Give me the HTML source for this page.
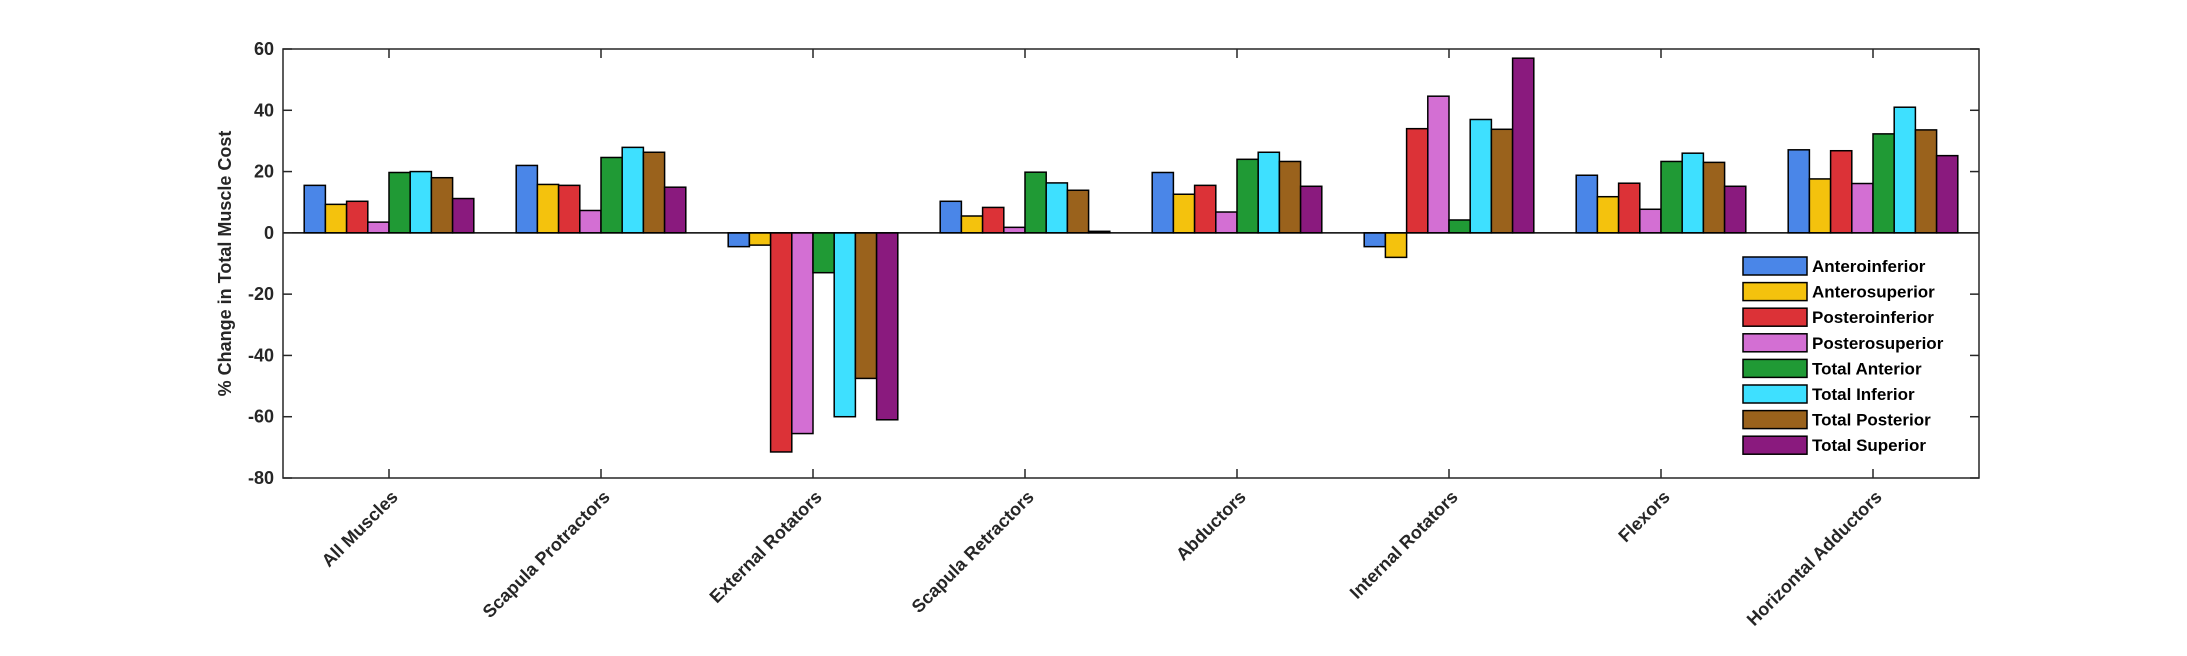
<!DOCTYPE html>
<html><head><meta charset="utf-8"><style>
html,body{margin:0;padding:0;background:#fff;}
svg{display:block;font-family:"Liberation Sans",Arial,sans-serif;font-weight:bold;}
</style></head><body>
<svg id="chart" width="2187" height="656" xmlns="http://www.w3.org/2000/svg">
<rect width="2187" height="656" fill="#fff"/>
<g id="bars"></g>
<g id="axes"></g>
<g id="legend"></g>
</svg>
<script>
const categories = ["All Muscles","Scapula Protractors","External Rotators","Scapula Retractors","Abductors","Internal Rotators","Flexors","Horizontal Adductors"];
const seriesNames = ["Anteroinferior","Anterosuperior","Posteroinferior","Posterosuperior","Total Anterior","Total Inferior","Total Posterior","Total Superior"];
const anteroinferior = [15.5,22,-4.5,10.3,19.7,-4.5,18.8,27.1];
const anterosuperior = [9.3,15.8,-4,5.5,12.6,-8,11.8,17.6];
const posteroinferior = [10.3,15.5,-71.5,8.3,15.5,34,16.2,26.8];
const posterosuperior = [3.5,7.3,-65.5,1.8,6.8,44.6,7.7,16.1];
const totalAnterior = [19.7,24.6,-13,19.8,24,4.2,23.3,32.3];
const totalInferior = [20,27.9,-60,16.3,26.3,37,26,41];
const totalPosterior = [18,26.3,-47.5,13.9,23.3,33.8,23,33.6];
const totalSuperior = [11.2,14.9,-61,0.5,15.2,57,15.2,25.2];
const yTicks = [60,40,20,0,-20,-40,-60,-80];
const colors = ["#4a86e8","#f4c20d","#dc3237","#d36fd3","#209a35","#3ee0ff","#9a621c","#8a1a7e"];

const series = [anteroinferior,anterosuperior,posteroinferior,posterosuperior,totalAnterior,totalInferior,totalPosterior,totalSuperior];
const L=283,R=1979,T=49,B=478,yMin=-80,yMax=60;
const NS="http://www.w3.org/2000/svg";
function y(v){return T+(yMax-v)/(yMax-yMin)*(B-T);}
function xc(i){return L+(i+0.5)*(R-L)/categories.length;}
const step=(R-L)/categories.length, bw=step*0.8/series.length;
function mk(tag,attrs,parent){const e=document.createElementNS(NS,tag);for(const k in attrs)e.setAttribute(k,attrs[k]);parent.appendChild(e);return e;}
const gb=document.getElementById('bars'),ga=document.getElementById('axes'),gl=document.getElementById('legend');
series.forEach((s,si)=>{s.forEach((v,ci)=>{
  const x=xc(ci)-step*0.4+si*bw;
  const r=mk('rect',{x:x,y:Math.min(y(v),y(0)),width:bw,height:Math.abs(y(v)-y(0)),fill:colors[si],stroke:'#000','stroke-width':1.5},gb);
  
  
});});
const zl=mk('line',{x1:L,x2:R,y1:y(0),y2:y(0),stroke:'#000','stroke-width':1.5},ga);


const box=mk('rect',{x:L,y:T,width:R-L,height:B-T,fill:'none',stroke:'#262626','stroke-width':1.5},ga);


yTicks.forEach(v=>{
  mk('line',{x1:L,x2:L+9,y1:y(v),y2:y(v),stroke:'#262626','stroke-width':1.5},ga);
  mk('line',{x1:R,x2:R-9,y1:y(v),y2:y(v),stroke:'#262626','stroke-width':1.5},ga);
  const t=mk('text',{x:L-9,y:y(v)+6,'text-anchor':'end','font-size':18,fill:'#262626'},ga);
  t.textContent=v;
  
  
});
categories.forEach((c,i)=>{
  const x=xc(i);
  mk('line',{x1:x,x2:x,y1:B,y2:B-9,stroke:'#262626','stroke-width':1.5},ga);
  mk('line',{x1:x,x2:x,y1:T,y2:T+9,stroke:'#262626','stroke-width':1.5},ga);
  const t=mk('text',{x:x+10,y:B+20,'text-anchor':'end','font-size':18,fill:'#262626',transform:`rotate(-45 ${x+10} ${B+20})`},ga);
  t.textContent=c;
  
  
});
const yl=mk('text',{x:0,y:0,'text-anchor':'middle','font-size':18,fill:'#262626',transform:`translate(231 ${(T+B)/2}) rotate(-90)`},ga);
yl.textContent="% Change in Total Muscle Cost";


seriesNames.forEach((n,i)=>{
  const yy=257+i*25.6;
  const r=mk('rect',{x:1743,y:yy,width:64,height:18,fill:colors[i],stroke:'#000','stroke-width':1.5},gl);
  
  
  const t=mk('text',{x:1812,y:yy+15,'font-size':17,fill:'#000'},gl);
  t.textContent=n;
  
  
});
</script>
</body></html>
